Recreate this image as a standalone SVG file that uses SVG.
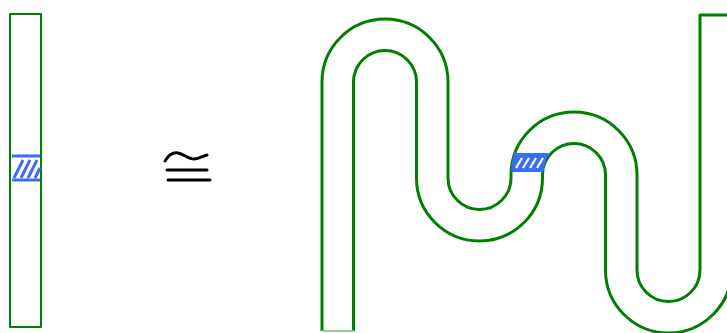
<svg xmlns="http://www.w3.org/2000/svg" width="727" height="333" viewBox="0 0 727 333">
<style>
.edge{fill:none;stroke:#008000;stroke-linejoin:round}
.thin{stroke-width:2}
.thick{stroke-width:3}
.hatch{fill:#3b6cf5}
.stripe{stroke:#3b6cf5;stroke-width:3;stroke-linecap:butt}
.wstripe{stroke:#ffffff;stroke-width:2.2}
.sym{fill:none;stroke:#000;stroke-width:3;stroke-linecap:round}
</style>
<rect width="727" height="333" fill="#ffffff"/>
<g id="bar">
<rect class="edge thin" x="10" y="14" width="31" height="313"/>
</g>
<g id="bar-hatch">
<line class="stripe" x1="12" y1="156" x2="40" y2="156"/>
<line class="stripe" x1="12" y1="180" x2="40" y2="180"/>
<line class="stripe" x1="14" y1="178" x2="23" y2="160"/>
<line class="stripe" x1="21" y1="178" x2="30" y2="160"/>
<line class="stripe" x1="28" y1="178" x2="37" y2="160"/>
<line class="stripe" x1="35" y1="178" x2="40" y2="168"/>
</g>
<g id="congruent">
<path class="sym" d="M165,161 C168,156 172,152 178,153 C184,154 188,159 194,159 C199,159 203,156 207,155"/>
<line class="sym" x1="167" y1="170" x2="207" y2="170"/>
<line class="sym" x1="168" y1="180" x2="210" y2="180"/>
</g>
<g id="strip">
<path class="edge thick" d="M322,331 L322,82 A63,63 0 0 1 448,82 L448,178 A31.5,31.5 0 0 0 511,178 L511,175 A63,63 0 0 1 637,175 L637,270 A31.5,31.5 0 0 0 700,270 L700,15 L727,15"/>
<path class="edge thick" d="M353.5,331 L353.5,82 A31.5,31.5 0 0 1 416.5,82 L416.5,178 A63,63 0 0 0 542.5,178 L542.5,175 A31.5,31.5 0 0 1 605.5,175 L605.5,270 A63,63 0 0 0 731.5,270 L731.5,15"/>
<line x1="322" y1="331" x2="353.5" y2="331" stroke="#8fcf8f" stroke-width="2"/>
</g>
<g id="strip-hatch">
<path class="hatch" d="M514,153 L549,153 L546,160 L543,172 L511,172 L512,162 Z"/>
<line class="wstripe" x1="516" y1="168" x2="522" y2="158"/>
<line class="wstripe" x1="523" y1="168" x2="529" y2="158"/>
<line class="wstripe" x1="530" y1="168" x2="536" y2="158"/>
<line class="wstripe" x1="537" y1="168" x2="543" y2="158"/>
</g>
</svg>
